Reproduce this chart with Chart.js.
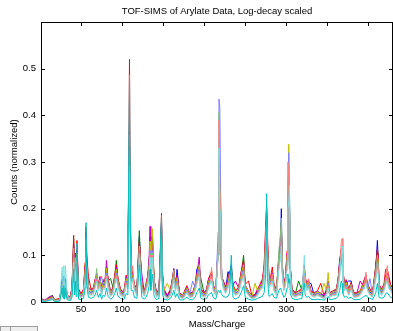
<!DOCTYPE html>
<html>
<head>
<meta charset="utf-8">
<script src="https://cdn.jsdelivr.net/npm/chart.js@4.4.1/dist/chart.umd.min.js"></script>
<style>
  html, body { margin: 0; padding: 0; background: #fff; }
  #wrap { position: relative; width: 393px; height: 331px; overflow: hidden; }
  #btn { position: absolute; left: 0; top: 326px; width: 38px; height: 8px; background: #eeeeee;
         border: 1px solid #9c9c9c; box-sizing: border-box; }
  #btn span { position: absolute; left: 9px; top: 0; width: 1px; height: 8px; background: #9c9c9c; }
</style>
</head>
<body>
<div id="wrap">
  <canvas id="c" width="393" height="331"></canvas>
  <div id="btn"><span></span></div>
</div>
<script>
const title = 'TOF-SIMS of Arylate Data, Log-decay scaled';
const xLabel = 'Mass/Charge';
const yLabel = 'Counts (normalized)';
const xTicks = [50, 100, 150, 200, 250, 300, 350, 400];
const yTicks = [0, 0.1, 0.2, 0.3, 0.4, 0.5];

// mass/charge positions shared by all spectra
const masses = [
  1, 6, 12, 15, 18, 24, 27, 28, 29, 30,
  31, 33, 37, 39, 41, 42, 43, 44, 45, 47,
  50, 53, 55, 56, 57, 59, 62, 65, 67, 69,
  71, 73, 75, 77, 79, 81, 83, 86, 89, 91,
  93, 95, 98, 102, 105, 107, 108, 109, 110, 111,
  113, 115, 118, 121, 122, 124, 127, 129, 131, 133,
  134, 135, 137, 139, 142, 145, 147, 148, 149, 151,
  155, 159, 161, 163, 165, 167, 170, 174, 177, 179,
  182, 186, 189, 191, 194, 196, 200, 203, 205, 207,
  209, 211, 214, 217, 218, 219, 220, 221, 223, 226,
  229, 231, 233, 235, 238, 242, 245, 248, 250, 254,
  258, 262, 265, 268, 271, 273, 275, 276, 277, 279,
  281, 283, 285, 288, 291, 293, 294, 295, 297, 299,
  301, 302, 303, 304, 305, 307, 311, 315, 319, 322,
  323, 325, 327, 330, 334, 338, 342, 346, 349, 351,
  353, 357, 361, 363, 365, 367, 368, 369, 371, 373,
  376, 379, 382, 386, 390, 393, 395, 397, 399, 402,
  405, 407, 409, 411, 412, 413, 416, 419, 421, 423,
  425, 427, 430
];

// counts in thousandths, one array per spectrum (drawn in this order)
const blueVals = [
  8, 3, 10, 12, 4, 5, 50, 20, 55, 15,
  50, 12, 6, 30, 120, 40, 90, 35, 110, 20,
  12, 20, 70, 150, 90, 25, 20, 25, 40, 55,
  30, 45, 20, 40, 35, 70, 40, 18, 25, 50,
  70, 40, 22, 15, 45, 40, 260, 334, 170, 60,
  60, 30, 20, 140, 100, 30, 18, 30, 45, 80,
  140, 70, 130, 40, 15, 22, 130, 170, 55, 20,
  10, 20, 40, 60, 30, 70, 15, 10, 20, 28,
  15, 15, 30, 70, 80, 22, 15, 22, 40, 50,
  55, 30, 18, 120, 300, 270, 200, 60, 40, 25,
  65, 55, 80, 30, 18, 25, 55, 80, 30, 18,
  10, 12, 22, 30, 40, 60, 140, 190, 120, 40,
  45, 60, 30, 22, 90, 130, 200, 70, 30, 45,
  90, 200, 250, 200, 60, 22, 15, 18, 22, 80,
  45, 30, 40, 40, 15, 18, 15, 10, 22, 45,
  15, 18, 22, 40, 90, 110, 100, 65, 30, 40,
  45, 45, 15, 15, 18, 30, 40, 50, 30, 22,
  15, 40, 70, 132, 90, 30, 22, 30, 55, 60,
  45, 30, 22
];
const greenVals = [
  6, 2, 8, 15, 3, 6, 45, 15, 50, 12,
  48, 10, 8, 25, 135, 50, 100, 30, 100, 25,
  15, 25, 80, 120, 70, 30, 25, 20, 45, 60,
  35, 50, 25, 45, 40, 75, 45, 50, 30, 55,
  89, 45, 25, 18, 50, 45, 250, 320, 160, 55,
  55, 35, 25, 153, 110, 35, 20, 35, 50, 85,
  120, 60, 145, 45, 18, 25, 120, 160, 50, 25,
  12, 25, 45, 70, 35, 55, 18, 12, 25, 30,
  18, 18, 35, 55, 70, 50, 18, 25, 45, 55,
  60, 35, 20, 100, 280, 250, 180, 50, 45, 30,
  45, 60, 70, 35, 22, 30, 60, 100, 35, 22,
  12, 15, 25, 35, 45, 70, 130, 180, 110, 45,
  50, 55, 35, 25, 100, 140, 170, 80, 35, 50,
  100, 190, 240, 190, 70, 25, 18, 45, 25, 70,
  50, 35, 45, 22, 18, 22, 18, 12, 25, 40,
  18, 22, 25, 45, 80, 100, 90, 60, 35, 45,
  25, 40, 18, 18, 22, 35, 45, 55, 35, 25,
  18, 45, 80, 110, 100, 35, 25, 35, 50, 55,
  40, 35, 25
];
const redVals = [
  5, 3, 9, 10, 5, 8, 40, 18, 45, 14,
  45, 15, 10, 35, 143, 55, 95, 40, 132, 28,
  18, 28, 85, 160, 98, 55, 28, 30, 48, 55,
  38, 55, 28, 48, 45, 70, 50, 22, 32, 58,
  80, 50, 28, 20, 58, 48, 270, 520, 200, 80,
  60, 38, 28, 130, 105, 38, 22, 38, 55, 75,
  130, 80, 120, 48, 20, 28, 125, 190, 70, 28,
  14, 28, 48, 65, 38, 58, 20, 14, 28, 35,
  20, 20, 38, 60, 75, 28, 20, 28, 48, 58,
  65, 38, 22, 110, 290, 260, 190, 55, 48, 32,
  48, 65, 75, 38, 25, 32, 65, 90, 38, 45,
  14, 16, 28, 38, 50, 80, 170, 200, 150, 48,
  55, 75, 38, 28, 95, 120, 160, 85, 38, 55,
  110, 210, 230, 180, 75, 28, 20, 24, 28, 75,
  55, 38, 48, 24, 20, 24, 40, 14, 28, 45,
  20, 24, 28, 48, 85, 115, 105, 70, 38, 48,
  28, 42, 20, 20, 24, 38, 48, 58, 38, 28,
  20, 48, 75, 115, 95, 38, 28, 38, 70, 70,
  55, 38, 28
];
const magentaVals = [
  7, 4, 12, 13, 4, 6, 42, 20, 48, 16,
  46, 14, 9, 32, 125, 52, 105, 38, 115, 26,
  16, 26, 75, 140, 85, 32, 26, 28, 46, 62,
  36, 52, 26, 46, 42, 89, 46, 21, 30, 52,
  75, 48, 26, 19, 55, 46, 240, 379, 175, 65,
  58, 36, 26, 125, 100, 60, 21, 36, 52, 100,
  162, 75, 125, 46, 19, 26, 110, 170, 60, 26,
  13, 26, 46, 72, 36, 56, 19, 13, 26, 32,
  19, 19, 36, 58, 96, 26, 19, 26, 46, 56,
  58, 36, 25, 115, 280, 255, 185, 52, 46, 30,
  46, 62, 72, 36, 45, 30, 62, 85, 36, 23,
  13, 15, 26, 36, 46, 72, 150, 210, 130, 46,
  52, 62, 36, 26, 92, 125, 165, 82, 36, 52,
  105, 205, 235, 185, 72, 26, 19, 23, 26, 72,
  52, 36, 46, 23, 19, 23, 19, 13, 26, 42,
  19, 23, 26, 46, 82, 105, 100, 66, 36, 46,
  26, 40, 19, 19, 45, 36, 46, 56, 36, 26,
  19, 46, 72, 105, 92, 36, 26, 36, 56, 62,
  46, 36, 26
];
const yellowVals = [
  6, 3, 8, 11, 4, 5, 38, 16, 44, 13,
  42, 12, 8, 28, 115, 48, 95, 34, 105, 24,
  14, 24, 70, 135, 80, 30, 24, 26, 42, 58,
  34, 48, 24, 42, 40, 72, 42, 20, 28, 50,
  70, 45, 24, 17, 50, 42, 230, 357, 165, 62,
  55, 34, 24, 120, 95, 34, 20, 34, 48, 80,
  130, 70, 157, 42, 17, 24, 105, 165, 58, 24,
  40, 24, 42, 68, 34, 52, 17, 12, 24, 30,
  17, 17, 34, 55, 80, 24, 17, 24, 42, 52,
  55, 34, 22, 110, 270, 250, 180, 50, 42, 28,
  42, 58, 68, 34, 22, 28, 58, 80, 34, 22,
  12, 40, 24, 34, 42, 68, 140, 205, 125, 42,
  48, 58, 34, 24, 88, 120, 160, 78, 34, 48,
  100, 220, 338, 190, 70, 24, 17, 22, 24, 70,
  48, 34, 42, 22, 17, 22, 17, 40, 24, 63,
  17, 22, 24, 42, 78, 100, 95, 62, 34, 42,
  24, 38, 17, 17, 22, 34, 42, 52, 34, 24,
  17, 42, 68, 100, 88, 34, 24, 34, 52, 58,
  42, 34, 24
];
const paleBlueVals = [
  5, 2, 7, 9, 3, 4, 35, 14, 40, 11,
  38, 10, 7, 22, 100, 40, 80, 30, 95, 20,
  12, 20, 60, 120, 70, 25, 20, 22, 36, 50,
  30, 42, 55, 36, 34, 62, 36, 17, 24, 44,
  62, 38, 20, 15, 44, 36, 220, 334, 150, 55,
  48, 30, 20, 110, 85, 30, 17, 30, 42, 70,
  110, 60, 110, 36, 15, 20, 95, 150, 50, 20,
  10, 20, 36, 60, 30, 45, 15, 10, 20, 26,
  15, 45, 30, 48, 70, 20, 15, 20, 36, 45,
  48, 30, 20, 150, 435, 420, 250, 80, 38, 25,
  38, 50, 60, 30, 19, 25, 50, 70, 30, 19,
  10, 12, 20, 30, 38, 60, 120, 180, 110, 38,
  42, 50, 30, 20, 80, 110, 150, 70, 30, 42,
  90, 250, 320, 220, 65, 20, 15, 19, 20, 62,
  42, 30, 36, 19, 15, 19, 15, 10, 20, 40,
  15, 19, 20, 36, 70, 90, 85, 55, 30, 36,
  20, 34, 15, 15, 19, 30, 36, 45, 30, 50,
  15, 36, 60, 90, 78, 30, 20, 30, 45, 50,
  36, 30, 20
];
const paleGreenVals = [
  4, 2, 6, 8, 3, 4, 32, 12, 38, 10,
  36, 9, 6, 20, 95, 38, 75, 28, 90, 18,
  11, 18, 55, 110, 65, 22, 18, 20, 34, 72,
  28, 40, 18, 34, 32, 58, 34, 15, 22, 42,
  58, 36, 18, 13, 42, 34, 210, 320, 145, 52,
  45, 28, 18, 105, 80, 28, 15, 28, 40, 65,
  105, 55, 105, 34, 13, 18, 90, 145, 48, 18,
  9, 18, 34, 56, 28, 42, 13, 9, 18, 24,
  13, 13, 28, 45, 65, 18, 13, 18, 34, 42,
  45, 28, 18, 120, 406, 250, 220, 70, 36, 22,
  36, 48, 56, 28, 17, 22, 48, 65, 28, 17,
  9, 11, 18, 28, 36, 56, 115, 175, 105, 36,
  40, 48, 28, 18, 110, 150, 180, 90, 28, 40,
  85, 240, 293, 210, 62, 18, 13, 17, 18, 58,
  40, 28, 34, 17, 13, 17, 13, 9, 18, 36,
  13, 17, 18, 34, 65, 85, 80, 52, 28, 34,
  18, 32, 13, 13, 17, 28, 34, 42, 28, 18,
  13, 34, 56, 85, 75, 28, 18, 28, 42, 46,
  34, 28, 18
];
const salmonVals = [
  3, 2, 5, 7, 2, 3, 30, 11, 35, 9,
  34, 8, 5, 18, 90, 35, 70, 26, 85, 16,
  10, 16, 50, 100, 60, 20, 16, 18, 32, 48,
  26, 38, 16, 32, 30, 55, 32, 14, 20, 40,
  55, 34, 16, 12, 40, 32, 200, 305, 140, 50,
  78, 26, 16, 100, 75, 26, 14, 26, 38, 62,
  100, 52, 100, 32, 12, 16, 85, 140, 45, 16,
  8, 16, 32, 52, 26, 40, 12, 8, 16, 22,
  12, 12, 26, 42, 60, 16, 12, 16, 32, 40,
  74, 26, 16, 110, 390, 240, 200, 60, 34, 20,
  34, 45, 52, 26, 16, 20, 45, 60, 26, 16,
  8, 10, 16, 26, 34, 52, 110, 170, 100, 34,
  38, 60, 26, 16, 75, 100, 130, 65, 26, 38,
  80, 300, 265, 200, 58, 16, 12, 16, 16, 55,
  38, 26, 50, 16, 12, 16, 12, 8, 16, 34,
  12, 16, 16, 32, 60, 130, 136, 50, 26, 32,
  16, 30, 12, 12, 16, 26, 32, 64, 26, 16,
  12, 32, 52, 80, 70, 26, 16, 26, 40, 78,
  32, 26, 16
];
const paleCyanVals = [
  3, 1, 4, 6, 2, 3, 75, 25, 78, 20,
  78, 15, 4, 16, 85, 32, 65, 24, 80, 14,
  9, 14, 45, 95, 55, 18, 14, 16, 28, 44,
  24, 34, 14, 28, 26, 50, 28, 12, 18, 36,
  50, 30, 14, 10, 36, 28, 190, 290, 130, 45,
  50, 24, 14, 95, 70, 24, 12, 24, 34, 58,
  95, 48, 95, 28, 10, 14, 80, 130, 40, 14,
  7, 14, 28, 48, 24, 36, 10, 7, 14, 20,
  10, 10, 24, 38, 55, 14, 10, 14, 28, 36,
  50, 24, 14, 100, 330, 200, 190, 55, 30, 18,
  30, 40, 48, 24, 14, 18, 40, 55, 24, 14,
  7, 9, 14, 24, 30, 48, 100, 160, 95, 30,
  34, 45, 24, 14, 70, 95, 120, 60, 24, 34,
  70, 200, 214, 250, 55, 14, 10, 14, 14, 100,
  45, 24, 30, 14, 10, 14, 10, 7, 14, 30,
  10, 14, 14, 28, 55, 100, 120, 45, 24, 28,
  14, 26, 10, 10, 14, 24, 28, 40, 24, 14,
  10, 28, 48, 70, 60, 24, 14, 24, 36, 45,
  28, 24, 14
];
const cyanVals = [
  3, 1, 4, 5, 1, 2, 30, 8, 35, 6,
  30, 5, 3, 10, 70, 15, 45, 12, 125, 6,
  5, 8, 30, 170, 35, 10, 8, 10, 15, 25,
  10, 18, 6, 15, 12, 30, 12, 6, 10, 18,
  30, 12, 8, 5, 18, 15, 280, 486, 190, 25,
  25, 10, 8, 80, 60, 10, 6, 10, 18, 35,
  70, 25, 60, 12, 5, 8, 140, 185, 20, 6,
  4, 8, 15, 25, 10, 18, 5, 4, 8, 10,
  5, 5, 10, 20, 30, 8, 5, 8, 15, 18,
  20, 10, 6, 25, 25, 20, 25, 18, 12, 10,
  12, 20, 100, 10, 6, 10, 20, 35, 10, 6,
  4, 5, 8, 10, 12, 20, 60, 232, 50, 12,
  15, 18, 10, 8, 25, 30, 25, 20, 10, 15,
  30, 60, 40, 50, 18, 8, 5, 6, 8, 40,
  15, 10, 12, 6, 5, 6, 5, 4, 8, 12,
  5, 6, 8, 12, 25, 45, 40, 18, 10, 12,
  8, 10, 5, 5, 6, 10, 12, 15, 10, 8,
  5, 12, 20, 40, 25, 10, 8, 10, 18, 20,
  15, 10, 8
];

const series = [
  { vals: blueVals, color: '#0000ff' },
  { vals: greenVals, color: '#008000' },
  { vals: redVals, color: '#ff0000' },
  { vals: magentaVals, color: '#bf00bf' },
  { vals: yellowVals, color: '#bfbf00' },
  { vals: paleBlueVals, color: '#8080ff' },
  { vals: paleGreenVals, color: '#80c080' },
  { vals: salmonVals, color: '#ff8080' },
  { vals: paleCyanVals, color: '#80e0e0' },
  { vals: cyanVals, color: '#00c0c0' }
];

const datasets = series.map((s, i) => ({
  data: masses.map((m, k) => ({ x: m, y: s.vals[k] / 1000 })),
  borderColor: s.color,
  borderWidth: 1,
  pointRadius: 0,
  tension: 0,
  fill: false,
  order: series.length - i // first spectrum at the back, last on top
}));

const font = '"Liberation Sans", Arial, Helvetica, sans-serif';

// box, inward ticks and texts, like a matlab axes
const frame = {
  id: 'frame',
  afterDraw(chart) {
    const { ctx, chartArea: a, scales: { x, y } } = chart;
    ctx.save();
    ctx.strokeStyle = '#000';
    ctx.lineWidth = 1;
    ctx.beginPath();
    xTicks.forEach(v => {
      const px = Math.round(x.getPixelForValue(v)) + 0.5;
      ctx.moveTo(px, a.top); ctx.lineTo(px, a.top + 4);
      ctx.moveTo(px, a.bottom); ctx.lineTo(px, a.bottom - 4);
    });
    yTicks.forEach(v => {
      const py = Math.round(y.getPixelForValue(v)) + 0.5;
      ctx.moveTo(a.left, py); ctx.lineTo(a.left + 4, py);
      ctx.moveTo(a.right, py); ctx.lineTo(a.right - 4, py);
    });
    ctx.stroke();
    ctx.strokeRect(a.left + 0.5, a.top + 0.5, a.right - a.left - 1, a.bottom - a.top);

    ctx.fillStyle = '#000';
    ctx.font = '9.5px ' + font;
    ctx.textAlign = 'center';
    ctx.textBaseline = 'middle';
    const cx = (a.left + a.right) / 2;
    ctx.fillText(title, cx, 11);
    ctx.fillText(xLabel, cx, 324);
    ctx.translate(14, (a.top + a.bottom) / 2);
    ctx.rotate(-Math.PI / 2);
    ctx.fillText(yLabel, 0, 0);
    ctx.restore();
  }
};

new Chart(document.getElementById('c'), {
  type: 'line',
  data: { datasets: datasets },
  options: {
    responsive: false,
    animation: false,
    devicePixelRatio: 1,
    layout: { padding: { top: 22, right: 0, left: 0, bottom: 0 } },
    plugins: { legend: { display: false }, tooltip: { enabled: false } },
    scales: {
      x: {
        type: 'linear',
        min: 1.2,
        max: 430,
        afterBuildTicks: s => { s.ticks = xTicks.map(v => ({ value: v })); },
        afterFit: s => { s.height = 29; },
        grid: { display: false, drawTicks: false },
        border: { display: false },
        ticks: { color: '#000', padding: 2, maxRotation: 0, autoSkip: false, font: { family: font, size: 9.5 } }
      },
      y: {
        min: 0,
        max: 0.6,
        afterBuildTicks: s => { s.ticks = yTicks.map(v => ({ value: v })); },
        afterFit: s => { s.width = 41; },
        grid: { display: false, drawTicks: false },
        border: { display: false },
        ticks: {
          color: '#000', padding: 5, autoSkip: false, font: { family: font, size: 9.5 },
          callback: v => v === 0 ? '0' : v.toFixed(1)
        }
      }
    }
  },
  plugins: [frame]
});
</script>
</body>
</html>
